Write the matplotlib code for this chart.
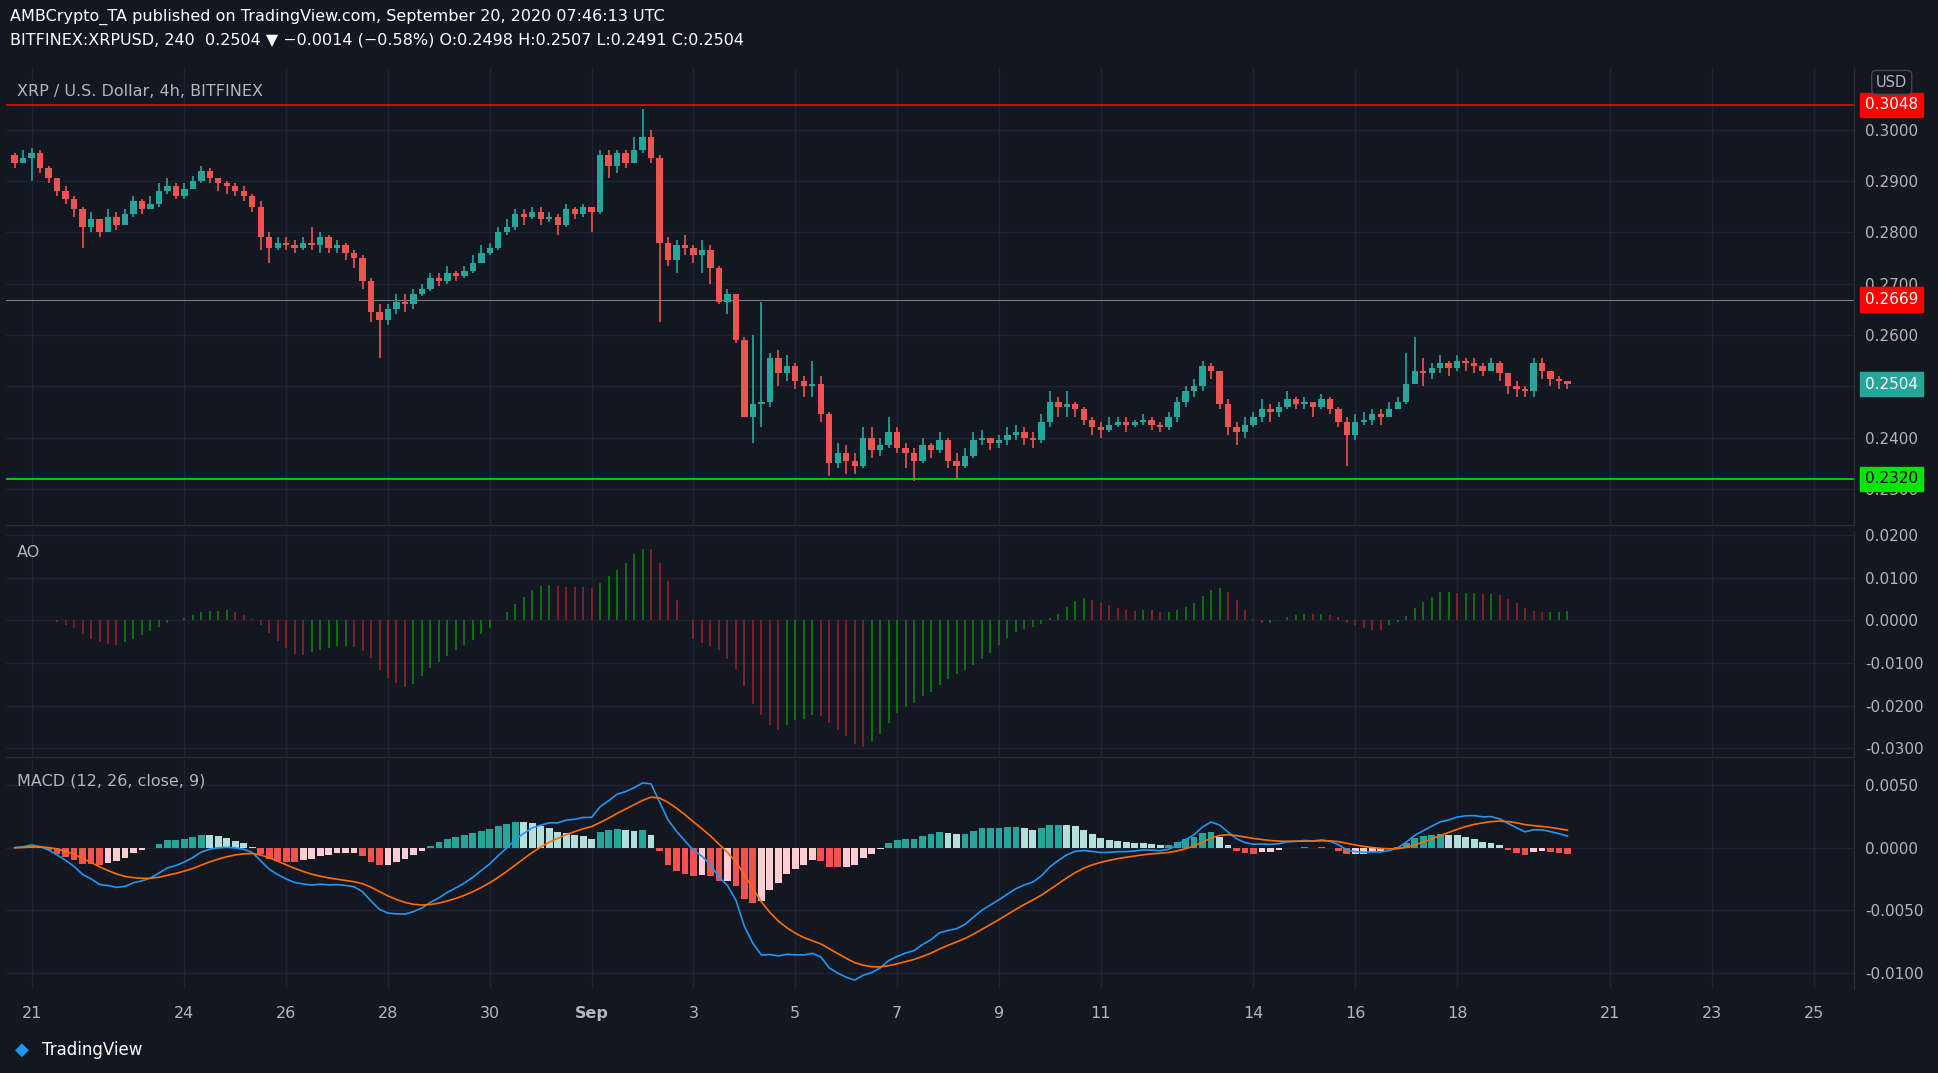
import numpy as np
import matplotlib
matplotlib.use("Agg")
import matplotlib.pyplot as plt

# 4h closes, Aug 20 16:00 -> Sep 20 04:00
closes = [0.2935, 0.2945,
 0.2955, 0.2925, 0.2905, 0.2880, 0.2865, 0.2845,
 0.2810, 0.2825, 0.2800, 0.2830,
 0.2815, 0.2835, 0.2860, 0.2845, 0.2855, 0.2880,
 0.2890, 0.2870, 0.2885, 0.2900, 0.2920, 0.2905,
 0.2895, 0.2890, 0.2880, 0.2870, 0.2850, 0.2790,
 0.2770, 0.2780, 0.2775, 0.2770, 0.2780, 0.2775,
 0.2790, 0.2770, 0.2775, 0.2760, 0.2750, 0.2705,
 0.2645, 0.2630, 0.2650, 0.2665, 0.2660, 0.2680,
 0.2690, 0.2710, 0.2705, 0.2720, 0.2715, 0.2725,
 0.2740, 0.2760, 0.2770, 0.2800,
 0.2810, 0.2835, 0.2830, 0.2840, 0.2825, 0.2830,
 0.2815, 0.2845, 0.2835, 0.2850, 0.2840, 0.2950,
 0.2930, 0.2955, 0.2935, 0.2960, 0.2985, 0.2945,
 0.2780, 0.2745, 0.2775, 0.2770, 0.2755, 0.2765,
 0.2730, 0.2665, 0.2680, 0.2590, 0.2440, 0.2465,
 0.2470, 0.2555, 0.2525, 0.2540, 0.2510, 0.2500,
 0.2505, 0.2445, 0.2350, 0.2370, 0.2355, 0.2345,
 0.2400, 0.2375, 0.2385, 0.2410, 0.2380, 0.2370,
 0.2355, 0.2385, 0.2375, 0.2395, 0.2355, 0.2345,
 0.2365, 0.2395, 0.2400, 0.2390, 0.2395, 0.2405,
 0.2410, 0.2400, 0.2395, 0.2430, 0.2470, 0.2460,
 0.2465, 0.2455, 0.2435, 0.2420, 0.2415, 0.2425,
 0.2430, 0.2425, 0.2430, 0.2435, 0.2425, 0.2420, 0.2440,
 0.2470, 0.2490, 0.2500, 0.2540, 0.2530, 0.2465,
 0.2420, 0.2410, 0.2425, 0.2440, 0.2455, 0.2450,
 0.2460, 0.2475, 0.2465, 0.2470, 0.2460, 0.2475,
 0.2455, 0.2430, 0.2405, 0.2430, 0.2435, 0.2445,
 0.2440, 0.2455, 0.2470, 0.2505, 0.2530, 0.2525,
 0.2535, 0.2545, 0.2535, 0.2550, 0.2545, 0.2540, 0.2530, 0.2545, 0.2525,
 0.2500, 0.2495, 0.2490, 0.2545, 0.2530, 0.2515,
 0.2510, 0.2504]
first_open = 0.2950
highs = [0.2955, 0.2960,
 0.2965, 0.2960, 0.2930, 0.2900, 0.2890, 0.2870,
 0.2850, 0.2840, 0.2820, 0.2845,
 0.2840, 0.2845, 0.2870, 0.2865, 0.2870, 0.2895,
 0.2905, 0.2895, 0.2895, 0.2910, 0.2930, 0.2925,
 0.2905, 0.2900, 0.2895, 0.2890, 0.2875, 0.2860,
 0.2800, 0.2790, 0.2790, 0.2785, 0.2790, 0.2810,
 0.2800, 0.2795, 0.2785, 0.2780, 0.2765, 0.2755,
 0.2710, 0.2660, 0.2660, 0.2680, 0.2680, 0.2690,
 0.2700, 0.2720, 0.2720, 0.2735, 0.2725, 0.2735,
 0.2755, 0.2775, 0.2780, 0.2810,
 0.2825, 0.2845, 0.2845, 0.2850, 0.2850, 0.2840,
 0.2835, 0.2855, 0.2850, 0.2855, 0.2850, 0.2960,
 0.2960, 0.2960, 0.2960, 0.2985, 0.3040, 0.3000,
 0.2950, 0.2790, 0.2785, 0.2795, 0.2775, 0.2785,
 0.2775, 0.2735, 0.2690, 0.2670, 0.2595, 0.2600,
 0.2665, 0.2565, 0.2570, 0.2560, 0.2545, 0.2520,
 0.2550, 0.2520, 0.2450, 0.2390, 0.2385, 0.2370,
 0.2420, 0.2420, 0.2400, 0.2440, 0.2420, 0.2390,
 0.2380, 0.2400, 0.2390, 0.2410, 0.2400, 0.2370,
 0.2380, 0.2410, 0.2415, 0.2400, 0.2405, 0.2420,
 0.2425, 0.2420, 0.2410, 0.2445, 0.2490, 0.2480,
 0.2490, 0.2470, 0.2460, 0.2440, 0.2430, 0.2440,
 0.2440, 0.2440, 0.2435, 0.2445, 0.2440, 0.2430, 0.2450,
 0.2480, 0.2500, 0.2515, 0.2550, 0.2545, 0.2530,
 0.2475, 0.2430, 0.2440, 0.2450, 0.2475, 0.2465,
 0.2470, 0.2490, 0.2480, 0.2480, 0.2470, 0.2485,
 0.2480, 0.2460, 0.2440, 0.2445, 0.2450, 0.2455,
 0.2455, 0.2470, 0.2480, 0.2565, 0.2595, 0.2555,
 0.2545, 0.2560, 0.2550, 0.2560, 0.2555, 0.2555, 0.2545, 0.2555, 0.2550,
 0.2520, 0.2510, 0.2500, 0.2555, 0.2555, 0.2530,
 0.2520, 0.2510]
lows = [0.2925, 0.2935,
 0.2900, 0.2915, 0.2895, 0.2870, 0.2855, 0.2830,
 0.2770, 0.2800, 0.2790, 0.2800,
 0.2805, 0.2815, 0.2830, 0.2835, 0.2845, 0.2850,
 0.2875, 0.2865, 0.2865, 0.2885, 0.2895, 0.2895,
 0.2880, 0.2875, 0.2870, 0.2860, 0.2840, 0.2765,
 0.2740, 0.2765, 0.2765, 0.2760, 0.2765, 0.2765,
 0.2760, 0.2760, 0.2760, 0.2745, 0.2730, 0.2690,
 0.2625, 0.2555, 0.2620, 0.2640, 0.2645, 0.2650,
 0.2675, 0.2685, 0.2695, 0.2700, 0.2705, 0.2710,
 0.2720, 0.2740, 0.2755, 0.2765,
 0.2795, 0.2805, 0.2815, 0.2825, 0.2815, 0.2820,
 0.2795, 0.2810, 0.2825, 0.2830, 0.2800, 0.2835,
 0.2905, 0.2915, 0.2925, 0.2935, 0.2955, 0.2935,
 0.2625, 0.2735, 0.2720, 0.2755, 0.2740, 0.2720,
 0.2700, 0.2660, 0.2640, 0.2585, 0.2440, 0.2390,
 0.2420, 0.2460, 0.2500, 0.2510, 0.2495, 0.2480,
 0.2480, 0.2430, 0.2325, 0.2340, 0.2330, 0.2330,
 0.2340, 0.2360, 0.2365, 0.2380, 0.2370, 0.2340,
 0.2315, 0.2350, 0.2360, 0.2370, 0.2340, 0.2320,
 0.2340, 0.2360, 0.2385, 0.2375, 0.2380, 0.2385,
 0.2395, 0.2385, 0.2380, 0.2390, 0.2420, 0.2440,
 0.2440, 0.2440, 0.2425, 0.2405, 0.2400, 0.2410,
 0.2420, 0.2410, 0.2420, 0.2425, 0.2415, 0.2410, 0.2415,
 0.2430, 0.2460, 0.2480, 0.2490, 0.2515, 0.2455,
 0.2405, 0.2385, 0.2400, 0.2420, 0.2430, 0.2430,
 0.2440, 0.2455, 0.2455, 0.2455, 0.2440, 0.2455,
 0.2445, 0.2420, 0.2345, 0.2395, 0.2425, 0.2425,
 0.2425, 0.2440, 0.2460, 0.2465, 0.2505, 0.2500,
 0.2515, 0.2525, 0.2520, 0.2530, 0.2530, 0.2525, 0.2520, 0.2530, 0.2510,
 0.2485, 0.2480, 0.2480, 0.2480, 0.2515, 0.2500,
 0.2495, 0.2495]

date_labels = ["21", "24", "26", "28", "30", "Sep", "3", "5", "7", "9", "11", "14", "16", "18", "21", "23", "25"]
date_day_offsets = [0, 3, 5, 7, 9, 11, 13, 15, 17, 19, 21, 24, 26, 28, 31, 33, 35]
price_ticks = [0.2300, 0.2400, 0.2500, 0.2600, 0.2700, 0.2800, 0.2900, 0.3000]
ao_ticks = [-0.03, -0.02, -0.01, 0.0, 0.01, 0.02]
macd_ticks = [-0.01, -0.005, 0.0, 0.005]

BG = "#131722"; GRID = "#1f2330"; TXT = "#b2b5be"
UP = "#26a69a"; DN = "#ef5350"

c = np.array(closes); n = len(c)
o = np.concatenate([[first_open], c[:-1]])
h = np.maximum(np.array(highs), np.maximum(o, c))
l = np.minimum(np.array(lows), np.minimum(o, c))
x = np.arange(n)

def sma(a, k):
    out = np.empty_like(a)
    for i in range(len(a)):
        out[i] = a[max(0, i - k + 1):i + 1].mean()
    return out

def ema(a, k):
    al = 2 / (k + 1); out = np.empty_like(a); out[0] = a[0]
    for i in range(1, len(a)):
        out[i] = al * a[i] + (1 - al) * out[i - 1]
    return out

med = (h + l) / 2
ao = sma(med, 5) - sma(med, 34)
macd = ema(c, 12) - ema(c, 26)
sig = ema(macd, 9)
hist = macd - sig

fig = plt.figure(figsize=(19.38, 10.73), dpi=100, facecolor=BG)
W = 1568; H = 868
def rect(x0, y0, x1, y1):
    return [x0 / W, 1 - y1 / H, (x1 - x0) / W, (y1 - y0) / H]
ax1 = fig.add_axes(rect(5, 55, 1500, 425))
ax2 = fig.add_axes(rect(5, 430, 1500, 612), sharex=ax1)
ax3 = fig.add_axes(rect(5, 615, 1500, 800), sharex=ax1)
xmax = (1500 - 8) / 6.883
for ax in (ax1, ax2, ax3):
    ax.set_facecolor(BG)
    for s in ax.spines.values():
        s.set_visible(False)
    ax.yaxis.tick_right()
    ax.tick_params(colors=TXT, labelsize=11, length=0, pad=8)
    ax.grid(True, color=GRID, lw=1)
    ax.set_axisbelow(True)
    ax.set_xlim(-1, xmax)
ax1.spines["bottom"].set_visible(True); ax1.spines["bottom"].set_color("#2a2e39")
ax2.spines["bottom"].set_visible(True); ax2.spines["bottom"].set_color("#2a2e39")
for ax in (ax1, ax2, ax3):
    ax.spines["right"].set_visible(True); ax.spines["right"].set_color("#2a2e39")

tick_x = [2 + 6 * d for d in date_day_offsets]
ax3.set_xticks(tick_x)
ax3.set_xticklabels(date_labels)
for t, lab in zip(ax3.get_xticklabels(), date_labels):
    if lab == "Sep":
        t.set_fontweight("bold")
ax3.tick_params(axis="x", pad=12, labelsize=11.5)
plt.setp(ax1.get_xticklabels(), visible=False)
plt.setp(ax2.get_xticklabels(), visible=False)

# candles
cols = np.where(c >= o, UP, DN)
ax1.vlines(x, l, h, colors=cols, lw=1.2, zorder=2)
ax1.bar(x, np.maximum(np.abs(c - o), 0.00008), bottom=np.minimum(o, c), width=0.75, color=cols, zorder=3)
ax1.set_ylim(0.2229, 0.3120)
ax1.set_yticks(price_ticks)
ax1.set_yticklabels([f"{v:.4f}" for v in price_ticks])
ax1.axhline(0.3048, color="#ff0000", lw=1.2)
ax1.axhline(0.2669, color="#787b86", lw=0.8)
ax1.axhline(0.2320, color="#00e600", lw=1.2)
for v, col, tc in [(0.3048, "#ff0000", "white"), (0.2669, "#ff0000", "white"),
                   (0.2504, UP, "white"), (0.2320, "#00e600", "black")]:
    ax1.annotate(f"{v:.4f}", xy=(1.0, v), xycoords=("axes fraction", "data"), xytext=(8, 0),
                 textcoords="offset points", va="center", ha="left", fontsize=11, color=tc,
                 bbox=dict(boxstyle="square,pad=0.3", fc=col, ec=col), annotation_clip=False)
ax1.text(0.006, 0.965, "XRP / U.S. Dollar, 4h, BITFINEX", transform=ax1.transAxes, color=TXT, fontsize=11.5, va="top")
ax1.text(1.012, 0.985, "USD", transform=ax1.transAxes, color=TXT, fontsize=10.5, va="top",
         bbox=dict(boxstyle="round,pad=0.3", fc=BG, ec="#434651"))

# AO
ao_col = np.where(np.concatenate([[True], np.diff(ao) >= 0]), "#0b8a0b", "#a02626")
ax2.vlines(x, 0, ao, colors=ao_col, lw=1.1)
ax2.set_ylim(-0.0320, 0.0209)
ax2.set_yticks(ao_ticks)
ax2.set_yticklabels([f"{v:.4f}" for v in ao_ticks])
ax2.text(0.006, 0.94, "AO", transform=ax2.transAxes, color=TXT, fontsize=11.5, va="top")

# MACD
prev = np.concatenate([[hist[0]], hist[:-1]])
hcol = []
for hv, pv in zip(hist, prev):
    if hv >= 0:
        hcol.append("#26a69a" if hv >= pv else "#b2dfdb")
    else:
        hcol.append("#ffcdd2" if hv >= pv else "#ef5350")
ax3.bar(x, hist, width=0.8, color=hcol)
ax3.plot(x, macd, color="#2196f3", lw=1.2)
ax3.plot(x, sig, color="#ff6d00", lw=1.2)
ax3.set_ylim(-0.0113, 0.0070)
ax3.set_yticks(macd_ticks)
ax3.set_yticklabels([f"{v:.4f}" for v in macd_ticks])
ax3.text(0.006, 0.94, "MACD (12, 26, close, 9)", transform=ax3.transAxes, color=TXT, fontsize=11.5, va="top")

# header
fig.text(8 / W, 1 - 14 / H, "AMBCrypto_TA published on TradingView.com, September 20, 2020 07:46:13 UTC",
         color="white", fontsize=11.5, va="center")
fig.text(8 / W, 1 - 32 / H, "BITFINEX:XRPUSD, 240  0.2504 ▼ −0.0014 (−0.58%) O:0.2498 H:0.2507 L:0.2491 C:0.2504",
         color="white", fontsize=11.5, va="center")
fig.text(34 / W, 1 - 849 / H, "TradingView", color="white", fontsize=12, va="center")
fig.text(12 / W, 1 - 849 / H, "◆", color="#2196f3", fontsize=13, va="center")

fig.savefig("out.png", dpi=100, facecolor=BG)
